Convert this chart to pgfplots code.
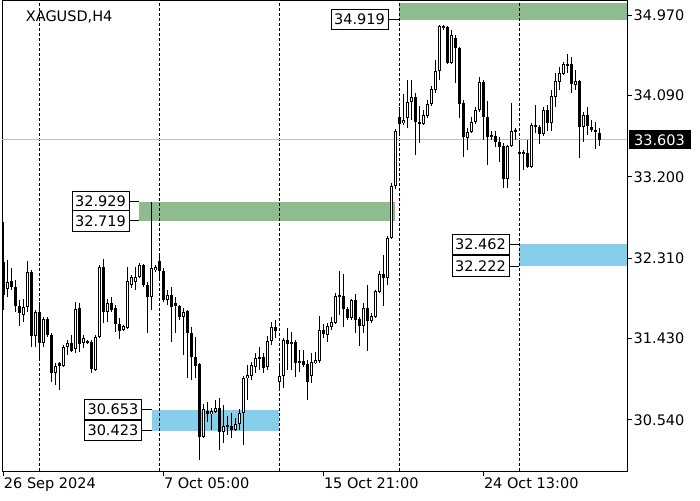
\documentclass[border=0pt]{standalone}
\usepackage{pgfplots}
\pgfplotsset{compat=1.18}
\usepackage{pgfplotstable}
\usepackage{fontspec}
\setmainfont{DejaVu Sans}

\definecolor{zgreen}{RGB}{143,188,143}
\definecolor{zblue}{RGB}{135,206,235}
\definecolor{pline}{RGB}{192,192,192}

% XAGUSD H4 candles: index, open, high, low, close
\pgfplotstableread{
i o h l c
0 32.268 32.706 31.743 31.907
1 31.973 32.290 31.885 32.049
2 32.060 32.202 31.962 31.994
3 31.994 32.071 31.721 31.787
4 31.787 31.852 31.568 31.710
5 31.688 31.863 31.612 31.776
6 31.776 32.279 31.721 32.159
7 32.159 32.180 31.338 31.458
8 31.458 31.743 31.338 31.721
9 31.721 31.830 31.218 31.382
10 31.382 31.666 31.338 31.644
11 31.644 31.666 31.448 31.469
12 31.469 31.491 30.955 31.054
13 31.054 31.163 30.922 31.130
14 31.163 31.174 30.868 31.130
15 31.130 31.360 31.119 31.338
16 31.338 31.415 31.251 31.382
17 31.382 31.469 31.283 31.294
18 31.316 31.830 31.273 31.754
19 31.765 31.819 31.283 31.371
20 31.382 31.469 31.327 31.437
21 31.404 31.415 31.371 31.382
22 31.393 31.415 31.054 31.097
23 31.087 31.469 31.076 31.448
24 31.448 32.235 31.437 32.213
25 32.213 32.301 31.601 31.721
26 31.721 31.863 31.612 31.819
27 31.819 31.885 31.721 31.743
28 31.765 31.798 31.502 31.590
29 31.590 31.655 31.426 31.513
30 31.524 31.579 31.513 31.568
31 31.546 32.213 31.535 32.060
32 32.016 32.126 31.984 32.104
33 32.049 32.213 31.962 32.104
34 32.104 32.257 32.093 32.235
35 32.235 32.246 31.994 32.016
36 32.016 32.049 31.491 31.885
37 31.885 32.929 31.743 32.202
38 32.180 32.235 32.159 32.213
39 32.279 32.366 32.071 32.170
40 32.170 32.202 31.830 31.852
41 31.852 31.962 31.798 31.907
42 31.907 31.994 31.393 31.776
43 31.819 31.885 31.491 31.787
44 31.787 31.798 31.634 31.666
45 31.666 31.765 31.251 31.721
46 31.732 31.743 30.999 31.491
47 31.491 31.557 30.977 31.229
48 31.229 31.448 30.999 31.130
49 31.152 31.160 30.102 30.354
50 30.354 30.715 30.345 30.660
51 30.638 30.736 30.518 30.605
52 30.605 30.671 30.430 30.638
53 30.627 30.758 30.616 30.671
54 30.671 30.780 30.211 30.408
55 30.408 30.704 30.288 30.474
56 30.463 30.583 30.376 30.485
57 30.474 30.616 30.343 30.430
58 30.430 30.561 30.419 30.496
59 30.496 30.660 30.430 30.616
60 30.616 31.021 30.266 30.999
61 30.999 31.141 30.758 31.032
62 31.021 31.174 30.977 31.141
63 31.119 31.273 31.054 31.218
64 31.229 31.338 31.087 31.218
65 31.229 31.273 31.054 31.108
66 31.119 31.458 31.087 31.404
67 31.404 31.612 31.360 31.557
68 31.557 31.634 31.437 31.513
69 30.955 31.130 30.890 31.021
70 31.021 31.437 30.890 31.415
71 31.415 31.546 31.087 31.371
72 31.371 31.502 31.087 31.393
73 31.393 31.415 31.010 31.163
74 31.163 31.305 31.065 31.185
75 31.185 31.305 31.119 31.141
76 31.152 31.196 30.758 30.955
77 31.021 31.273 30.944 31.174
78 31.163 31.283 31.155 31.196
79 31.185 31.677 31.163 31.524
80 31.524 31.590 31.437 31.480
81 31.469 31.601 31.393 31.568
82 31.557 31.666 31.524 31.612
83 31.601 31.929 31.595 31.896
84 31.885 32.170 31.688 31.907
85 31.896 32.137 31.557 31.754
86 31.754 31.776 31.634 31.655
87 31.655 31.863 31.634 31.852
88 31.852 31.918 31.491 31.634
89 31.644 31.666 31.349 31.568
90 31.568 31.819 31.491 31.765
91 31.765 32.016 31.294 31.623
92 31.623 31.710 31.601 31.677
93 31.666 31.962 31.660 31.951
94 31.940 32.170 31.929 32.137
95 32.137 32.345 31.787 32.093
96 32.093 32.552 32.016 32.531
97 32.531 33.132 32.520 33.099
98 33.099 33.723 33.067 33.701
99 33.854 33.964 33.657 33.778
100 33.789 34.106 33.767 33.821
101 33.843 34.259 33.734 34.018
102 34.018 34.259 33.821 34.073
103 34.073 34.117 33.438 33.799
104 33.799 33.974 33.570 33.778
105 33.778 33.931 33.767 33.876
106 33.865 34.040 33.843 33.996
107 33.996 34.193 33.974 34.160
108 34.149 34.478 34.117 34.357
109 34.357 34.861 34.259 34.850
110 34.828 34.861 34.806 34.850
111 34.839 34.850 34.434 34.445
112 34.445 34.806 34.434 34.751
113 34.718 34.751 34.226 34.609
114 34.609 34.620 33.843 33.996
115 34.007 34.040 33.417 33.635
116 33.624 33.734 33.493 33.690
117 33.690 33.854 33.679 33.799
118 33.799 33.964 33.778 33.931
119 33.931 34.292 33.909 34.237
120 34.237 34.259 33.603 33.854
121 33.854 34.029 33.329 33.635
122 33.635 33.701 33.603 33.657
123 33.646 33.701 33.526 33.581
124 33.581 33.635 33.362 33.526
125 33.537 33.570 33.077 33.176
126 33.176 33.548 33.077 33.537
127 33.537 34.007 33.526 33.701
128 33.712 33.734 33.603 33.690
129 33.471 33.603 33.187 33.449
130 33.449 33.493 33.274 33.471
131 33.460 33.603 33.296 33.307
132 33.307 33.789 33.300 33.767
133 33.767 33.985 33.679 33.745
134 33.745 33.767 33.559 33.668
135 33.668 33.964 33.646 33.931
136 33.931 33.985 33.701 33.789
137 33.789 34.149 33.701 34.084
138 34.073 34.335 33.964 34.248
139 34.237 34.401 34.149 34.335
140 34.325 34.456 34.314 34.434
141 34.434 34.543 34.335 34.423
142 34.434 34.510 34.117 34.215
143 34.204 34.368 34.149 34.248
144 34.248 34.259 33.406 33.745
145 33.745 33.909 33.581 33.876
146 33.876 33.964 33.657 33.756
147 33.745 33.821 33.690 33.712
148 33.712 33.799 33.504 33.690
149 33.679 33.734 33.537 33.603
}\candles

\begin{document}
\begin{tikzpicture}[font=\fontsize{14.5pt}{17pt}\selectfont]
\begin{axis}[
    at={(2.3pt,29pt)}, anchor=south west,
    scale only axis, width=624.7pt, height=470.5pt,
    xmin=-0.25, xmax=155.925,
    ymin=29.982, ymax=35.129,
    clip=false,
    axis line style={black, line width=1pt},
    tick align=outside,
    xtick pos=left, ytick pos=right,
    major tick length=5pt,
    tick style={black, line width=1pt},
    xtick={0,40,80,120},
    xticklabels={26 Sep 2024, 7 Oct 05:00, 15 Oct 21:00, 24 Oct 13:00},
    xticklabel style={anchor=north west, inner sep=0pt, xshift=0.5pt, yshift=-2pt},
    ytick={30.540,31.430,32.310,33.200,34.090,34.970},
    yticklabels={30.540,31.430,32.310,33.200,34.090,34.970},
    yticklabel pos=right,
    yticklabel style={anchor=west, inner sep=0pt, xshift=1.5pt},
    candle/.style={draw=none, mark=none, forget plot,
        error bars/.cd, y dir=both, y explicit, error mark=none,
        error bar style={#1}},
]

% zones
\addplot[draw=none, fill=zgreen, forget plot] coordinates {(34,32.719) (97.9,32.719) (97.9,32.929) (34,32.929)} -- cycle;
\addplot[draw=none, fill=zgreen, forget plot] coordinates {(99,34.919) (155.925,34.919) (155.925,35.105) (99,35.105)} -- cycle;
\addplot[draw=none, fill=zblue, forget plot] coordinates {(37.1,30.423) (69,30.423) (69,30.653) (37.1,30.653)} -- cycle;
\addplot[draw=none, fill=zblue, forget plot] coordinates {(129,32.222) (155.925,32.222) (155.925,32.462) (129,32.462)} -- cycle;

% week separators and last price line
\foreach \wk in {9,39,69,99,129} {
    \edef\tmp{\noexpand\addplot[black, line width=1pt, dash pattern=on 3pt off 2pt, forget plot]
        coordinates {(\wk,29.982) (\wk,35.129)};}
    \tmp
}
\addplot[pline, line width=1pt, forget plot] coordinates {(-0.25,33.603) (155.925,33.603)};

% connectors to the zone labels
\addplot[black, line width=1pt, forget plot] coordinates {(96.4,34.919) (99,34.919)};
\addplot[black, line width=1pt, forget plot] coordinates {(31.4,32.929) (34,32.929)};
\addplot[black, line width=1pt, forget plot] coordinates {(31.4,32.719) (34,32.719)};
\addplot[black, line width=1pt, forget plot] coordinates {(34.6,30.653) (37.1,30.653)};
\addplot[black, line width=1pt, forget plot] coordinates {(34.6,30.423) (37.1,30.423)};
\addplot[black, line width=1pt, forget plot] coordinates {(126.4,32.462) (129,32.462)};
\addplot[black, line width=1pt, forget plot] coordinates {(126.4,32.222) (129,32.222)};

% wicks
\addplot[candle={draw=black, line width=1pt}]
    table[x=i, y expr={(\thisrow{h}+\thisrow{l})/2}, y error expr={(\thisrow{h}-\thisrow{l})/2}] {\candles};
% bodies
\addplot[candle={draw=black, line width=3pt}]
    table[x=i, y expr={(\thisrow{o}+\thisrow{c})/2}, y error expr={max(abs(\thisrow{c}-\thisrow{o})/2,0.0055)}] {\candles};
% hollow inside of rising candles
\addplot[candle={draw=white, line width=1pt}]
    table[x=i, y expr={(\thisrow{o}+\thisrow{c})/2}, y error expr={(\thisrow{c}>\thisrow{o})*max(abs(\thisrow{c}-\thisrow{o})/2-0.0109,0)}] {\candles};

% labels
\node[anchor=base west, inner sep=0pt] at (axis cs:5.6,34.904) {XAGUSD,H4};
\tikzset{lbl/.style={draw=black, fill=white, line width=1pt, minimum width=57pt, minimum height=20.5pt, inner sep=0pt}}
\node[lbl] at (axis cs:89.05,34.919) {34.919};
\node[lbl] at (axis cs:24.3,32.929) {32.929};
\node[lbl] at (axis cs:24.3,32.719) {32.719};
\node[lbl] at (axis cs:27.4,30.653) {30.653};
\node[lbl] at (axis cs:27.4,30.423) {30.423};
\node[lbl] at (axis cs:119.3,32.462) {32.462};
\node[lbl] at (axis cs:119.3,32.222) {32.222};
\node[anchor=west, fill=black, text=white, minimum width=62pt, minimum height=19pt, inner sep=0pt] at (axis cs:156.25,33.603) {33.603};
\end{axis}
\pgfresetboundingbox
\path[use as bounding box] (0,0) rectangle (700pt,500pt);
\end{tikzpicture}
\end{document}
